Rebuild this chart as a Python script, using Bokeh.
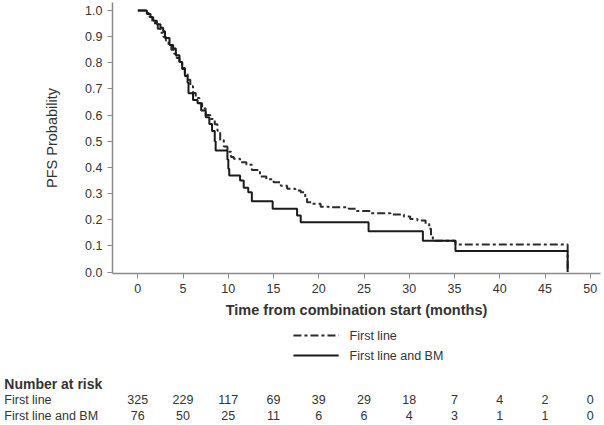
from bokeh.plotting import figure
from bokeh.layouts import column
from bokeh.models import Range1d, FixedTicker, PrintfTickFormatter
from bokeh.core.properties import value
from bokeh.embed import file_html
from bokeh.resources import INLINE

# ---- data ----
first_t = [0, 1.0, 1.3, 1.6, 1.9, 2.2, 2.5, 2.8, 3.1, 3.4, 3.7, 4.0, 4.3, 4.6, 4.9,
           5.2, 5.5, 5.8, 6.1, 6.4, 6.8, 7.1, 7.5, 8.0, 8.5, 8.8, 9.1, 9.5, 9.9,
           10.3, 10.6, 11.3, 12.0, 12.6, 13.5, 14.2, 15.0, 15.8, 16.5, 17.4, 18.0,
           18.5, 18.7, 19.3, 20.2, 21.1, 23.3, 24.2, 25.7, 27.9, 29.4, 30.1, 30.9,
           31.8, 32.2, 32.4, 32.6, 35.1, 47.5]
first_s = [1.0, 0.99, 0.975, 0.96, 0.945, 0.93, 0.915, 0.9, 0.885, 0.865, 0.85, 0.835,
           0.818, 0.80, 0.78, 0.76, 0.735, 0.71, 0.685, 0.665, 0.645, 0.625, 0.60,
           0.585, 0.565, 0.54, 0.505, 0.48, 0.46, 0.44, 0.433, 0.42, 0.41, 0.39,
           0.365, 0.355, 0.343, 0.33, 0.318, 0.312, 0.305, 0.284, 0.267, 0.261,
           0.25, 0.248, 0.242, 0.233, 0.225, 0.22, 0.212, 0.203, 0.197, 0.184,
           0.165, 0.14, 0.12, 0.105, 0.0]

bm_t = [0, 1.0, 1.4, 1.7, 2.1, 2.5, 2.8, 3.0, 3.5, 3.9, 4.2, 4.6, 4.9, 5.2, 5.5,
        5.6, 6.1, 6.6, 7.0, 7.5, 7.9, 8.2, 8.5, 8.6, 9.9, 10.0, 10.1, 11.3, 11.7,
        12.2, 12.6, 14.9, 17.6, 18.0, 25.5, 31.5, 35.1, 47.5]
bm_s = [1.0, 0.987, 0.974, 0.961, 0.947, 0.934, 0.921, 0.895, 0.868, 0.855, 0.829,
        0.803, 0.776, 0.75, 0.724, 0.684, 0.658, 0.645, 0.618, 0.592, 0.566, 0.539,
        0.50, 0.465, 0.43, 0.395, 0.369, 0.35, 0.322, 0.305, 0.271, 0.242, 0.216,
        0.19, 0.156, 0.12, 0.08, 0.0]

x_ticks = [0, 5, 10, 15, 20, 25, 30, 35, 40, 45, 50]
y_ticks = [0.0, 0.1, 0.2, 0.3, 0.4, 0.5, 0.6, 0.7, 0.8, 0.9, 1.0]

risk_times = [0, 5, 10, 15, 20, 25, 30, 35, 40, 45, 50]
risk_first = [325, 229, 117, 69, 39, 29, 18, 7, 4, 2, 0]
risk_bm = [76, 50, 25, 11, 6, 6, 4, 3, 1, 1, 0]

series_names = ["First line", "First line and BM"]
x_title = "Time from combination start (months)"
y_title = "PFS Probability"
risk_title = "Number at risk"

FONT = "Liberation Sans"
TXT = "#333333"
AX = "#8a8a8a"
DASH = "8 3 3 3"
C_FIRST = "#2b2b2b"
C_BM = "#1a1a1a"

# ---- main plot ----
p = figure(width=604, height=324, x_range=Range1d(-2.8, 51.13),
           y_range=Range1d(-0.0057, 1.0306), output_backend="svg",
           toolbar_location=None, min_border_left=112, min_border_right=4,
           min_border_top=2, min_border_bottom=51)
p.frame_align = False
p.grid.visible = False
p.outline_line_color = None

for ax in (p.xaxis[0], p.yaxis[0]):
    ax.axis_line_color = AX
    ax.axis_line_width = 1.5
    ax.major_tick_line_color = AX
    ax.major_tick_out = 5
    ax.major_tick_in = 0
    ax.minor_tick_line_color = None
    ax.major_label_text_font = FONT
    ax.major_label_text_font_size = "12.5px"
    ax.major_label_text_color = TXT
    ax.major_label_standoff = 5
    ax.axis_label_text_font = FONT
    ax.axis_label_text_color = TXT

p.xaxis[0].ticker = FixedTicker(ticks=x_ticks)
p.yaxis[0].ticker = FixedTicker(ticks=y_ticks)
p.yaxis[0].formatter = PrintfTickFormatter(format="%.1f")
p.xaxis[0].axis_label = x_title
p.xaxis[0].axis_label_text_font_style = "bold"
p.xaxis[0].axis_label_text_font_size = "14.5px"
p.xaxis[0].axis_label_standoff = 6
p.yaxis[0].axis_label = y_title
p.yaxis[0].axis_label_text_font_style = "normal"
p.yaxis[0].axis_label_text_font_size = "14.5px"
p.yaxis[0].axis_label_standoff = 22

p.step(first_t, first_s, mode="after", line_color=C_FIRST, line_width=2,
       line_dash=DASH)
p.step(bm_t, bm_s, mode="after", line_color=C_BM, line_width=2)

# ---- legend + number-at-risk table (same month scale, full width frame) ----
q = figure(width=604, height=101, x_range=Range1d(-15.17, 51.57),
           y_range=Range1d(101, 0), output_backend="svg", toolbar_location=None,
           min_border_left=0, min_border_right=0, min_border_top=0,
           min_border_bottom=0)
q.frame_align = False
q.axis.visible = False
q.grid.visible = False
q.outline_line_color = None

leg_y = [11, 31]
q.segment(x0=[17.2], y0=[leg_y[0]], x1=[22.2], y1=[leg_y[0]], line_color=C_FIRST,
          line_width=2, line_dash=DASH)
q.segment(x0=[17.2], y0=[leg_y[1]], x1=[22.2], y1=[leg_y[1]], line_color=C_BM,
          line_width=2)
q.text(x=[23.4, 23.4], y=leg_y, text=series_names, text_font=value(FONT),
       text_font_size="12.5px", text_color=TXT, text_baseline="middle",
       text_align="left")

row_y = [75, 91]
q.text(x=[-14.75], y=[59], text=[risk_title], text_font=value(FONT),
       text_font_size="14px", text_font_style="bold", text_color=TXT,
       text_baseline="middle", text_align="left")
q.text(x=[-14.75, -14.75], y=row_y, text=series_names, text_font=value(FONT),
       text_font_size="12.5px", text_color=TXT, text_baseline="middle",
       text_align="left")
q.text(x=risk_times, y=[row_y[0]] * len(risk_times), text=[str(v) for v in risk_first],
       text_font=value(FONT), text_font_size="12.5px", text_color=TXT,
       text_baseline="middle", text_align="center")
q.text(x=risk_times, y=[row_y[1]] * len(risk_times), text=[str(v) for v in risk_bm],
       text_font=value(FONT), text_font_size="12.5px", text_color=TXT,
       text_baseline="middle", text_align="center")

layout = column(p, q, spacing=0)
open("out.html", "w").write(file_html(layout, INLINE))
